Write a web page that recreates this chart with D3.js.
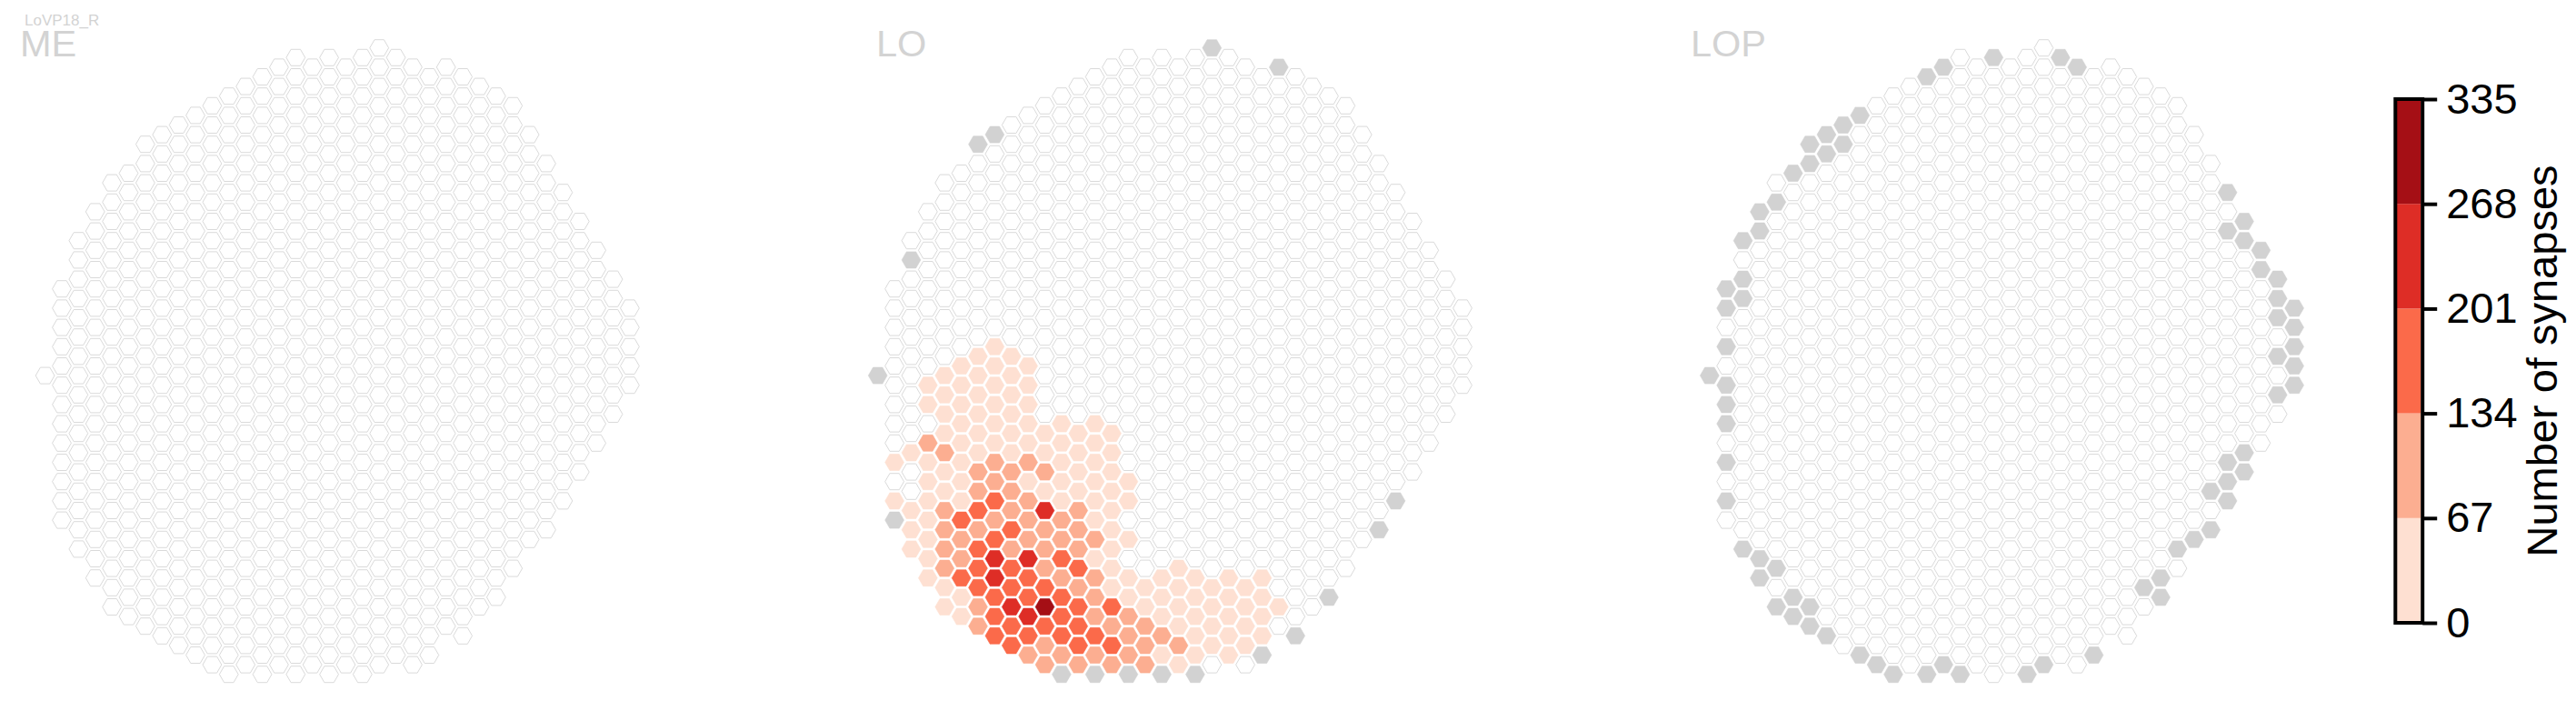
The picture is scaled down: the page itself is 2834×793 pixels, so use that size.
<!DOCTYPE html>
<html>
<head>
<meta charset="utf-8">
<script src="https://cdn.jsdelivr.net/npm/d3@7"></script>
<style>
html,body{margin:0;padding:0;background:#fff;}
svg{display:block;font-family:"Liberation Sans",Arial,sans-serif;}
</style>
</head>
<body>
<div id="chart"></div>
<script>
// Lattice: for each column index, first and last half-row index present
const colFirst = [34,25,20,17,14,13,10,9,8,7,6,5,4,3,2,1,2,1,2,1,0,1,2,3,2,3,4,5,6,9,12,15,18,21,24,27];
const colLast  = [34,49,52,55,58,59,60,61,62,63,64,65,64,65,64,65,64,65,64,65,64,63,64,63,60,61,58,57,54,51,50,47,44,41,38,35];

const neuronName = "LoVP18_R";
const panelNames = ["ME","LO","LOP"];
const colorBreaks = [67,134,201,268];
const colorTicks = [0,67,134,201,268,335];
const colorRange = ["#fee0d2","#fcae91","#fb6a4a","#de2d26","#a50f15"];

// Estimated synapse counts in LO: [column, first half-row, values every two half-rows]
const loSynapses = [
 [1,43, 30,0,30],
 [2,42, 30,0,0,30,30,30],
 [3,35, 30,30,0,100,30,30,30,30,30,30,30],
 [4,34, 30,30,30,30,100,30,30,100,100,100,100,30,30],
 [5,33, 30,30,30,30,30,30,30,30,170,100,100,170,30,30],
 [6,32, 30,30,30,30,30,30,100,100,170,100,170,170,170,100,100],
 [7,31, 30,30,30,30,30,30,100,100,170,100,170,235,235,170,170,170],
 [8,32, 30,30,30,30,30,30,100,100,100,170,100,170,170,235,170,170],
 [9,33, 30,30,30,30,30,100,30,100,100,100,235,170,170,235,170,100],
 [10,40, 30,30,100,30,235,100,100,100,170,335,170,100,100],
 [11,39, 30,30,30,30,30,100,100,170,100,170,170,170,100],
 [12,40, 30,30,30,30,100,100,100,170,100,170,170,170,100],
 [13,39, 30,30,30,30,30,30,100,30,100,100,100,170,100],
 [14,40, 30,30,30,30,30,30,30,30,30,170,100,170,100],
 [15,45, 30,30,0,30,0,30,30,100,100,100],
 [16,56, 30,30,100,100,100],
 [17,55, 30,30,30,100,30],
 [18,54, 30,30,30,30,100,30],
 [19,55, 30,30,30,30,30],
 [20,56, 30,30,30,30],
 [21,55, 30,30,30,30,30],
 [22,56, 30,30,30,30],
 [23,55, 30,30,30,30],
 [24,58, 30]
];

// Cells without a value (grey), as [column, half-row]
const loMissing = [[0,34],[1,49],[2,22],[6,10],[7,9],[11,65],[13,65],[15,65],[17,65],[19,65],[20,0],[23,63],[24,2],[25,61],[27,57],[30,50],[31,47]];
const lopMissing = [[0,34],[1,25],[1,27],[1,31],[1,35],[1,37],[1,39],[1,43],[1,47],[2,20],[2,24],[2,26],[2,52],[3,17],[3,19],[3,53],[3,55],[4,16],[4,54],[4,58],[5,13],[5,57],[5,59],[6,10],[6,12],[6,58],[6,60],[7,9],[7,11],[7,61],[8,8],[8,10],[9,7],[9,63],[10,64],[11,65],[13,3],[13,65],[14,2],[14,64],[15,65],[17,1],[19,65],[20,64],[21,1],[22,2],[23,63],[26,56],[27,55],[27,57],[28,52],[29,51],[30,46],[30,50],[31,15],[31,19],[31,43],[31,45],[31,47],[32,18],[32,20],[32,42],[32,44],[33,21],[33,23],[34,24],[34,26],[34,28],[34,32],[34,36],[35,27],[35,29],[35,31],[35,33],[35,35]];
const meMissing = [];

const W = 2834, H = 793;
const panelLeft = [49.6, 965.7, 1880.8];
const titleX = [22, 964, 1860];
const colStep = 18.38, halfRow = 10.6, topY = 52.7, hexR = 10.4;

const xLattice = d3.scaleLinear().domain([0,35]).range([0,35*colStep]);
const yLattice = d3.scaleLinear().domain([0,65]).range([topY, topY+65*halfRow]);
const color = d3.scaleThreshold().domain(colorBreaks).range(colorRange);

const svg = d3.select("#chart").append("svg").attr("width",W).attr("height",H);

const hexPath = d3.line()(d3.range(6).map(i=>[hexR*Math.cos(i*Math.PI/3), hexR*Math.sin(i*Math.PI/3)])) + "Z";

function buildCells(synapses, missing){
  const vals = new Map();
  synapses.forEach(r=>{ r.slice(2).forEach((v,i)=>vals.set(r[0]+":"+(r[1]+2*i), v)); });
  const miss = new Set(missing.map(d=>d[0]+":"+d[1]));
  const cells = [];
  colFirst.forEach((f,c)=>{
    for(let k=f;k<=colLast[c];k+=2){
      const id=c+":"+k;
      cells.push({c,k,v: miss.has(id)?null:(vals.get(id)||0)});
    }
  });
  return cells;
}

const panels = [buildCells([],meMissing), buildCells(loSynapses,loMissing), buildCells([],lopMissing)];

panels.forEach((cells,i)=>{
  const g = svg.append("g").attr("transform",`translate(${panelLeft[i]},0)`);
  g.selectAll("path").data(cells).join("path")
    .attr("d",hexPath)
    .attr("transform",d=>`translate(${xLattice(d.c)},${yLattice(d.k)})`)
    .attr("fill",d=>d.v===null?"#d2d2d2":d.v===0?"#ffffff":color(d.v))
    .attr("stroke",d=>d.v===null?"#d2d2d2":d.v===0?"#dadada":color(d.v))
    .attr("stroke-width",d=>d.v===0?1:0.6);
  svg.append("text").attr("x",titleX[i]).attr("y",61.7)
    .attr("font-size",41.5).attr("fill","#d3d3d3").text(panelNames[i]);
});

svg.append("text").attr("x",27).attr("y",28.3).attr("font-size",17).attr("fill","#d3d3d3").text(neuronName);

// Colour bar
const barY = d3.scaleLinear().domain([0,335]).range([685,109]);
const barX = 2637, barW = 26.5;
const edges = [0,...colorBreaks,335];
const bar = svg.append("g");
bar.selectAll("rect").data(colorRange).join("rect")
  .attr("x",barX).attr("width",barW)
  .attr("y",(d,i)=>barY(edges[i+1])).attr("height",(d,i)=>barY(edges[i])-barY(edges[i+1]))
  .attr("fill",d=>d);
bar.append("rect").attr("x",barX-1.7).attr("y",barY(335)).attr("width",barW+3.4).attr("height",barY(0)-barY(335))
  .attr("fill","none").attr("stroke","#000").attr("stroke-width",4);

const axis = d3.axisRight(barY).tickValues(colorTicks).tickSize(16).tickPadding(10).tickFormat(d3.format("d"));
const axG = svg.append("g").attr("transform",`translate(${barX+barW+1.7},0)`).call(axis);
axG.select(".domain").remove();
axG.selectAll(".tick line").attr("stroke","#000").attr("stroke-width",4);
axG.selectAll(".tick text").attr("font-size",47).attr("font-family","'Liberation Sans',Arial,sans-serif").attr("fill","#000");

svg.append("text").attr("transform",`translate(2813,397) rotate(-90)`)
  .attr("text-anchor","middle").attr("font-size",47).attr("fill","#000").text("Number of synapses");
</script>
</body>
</html>
